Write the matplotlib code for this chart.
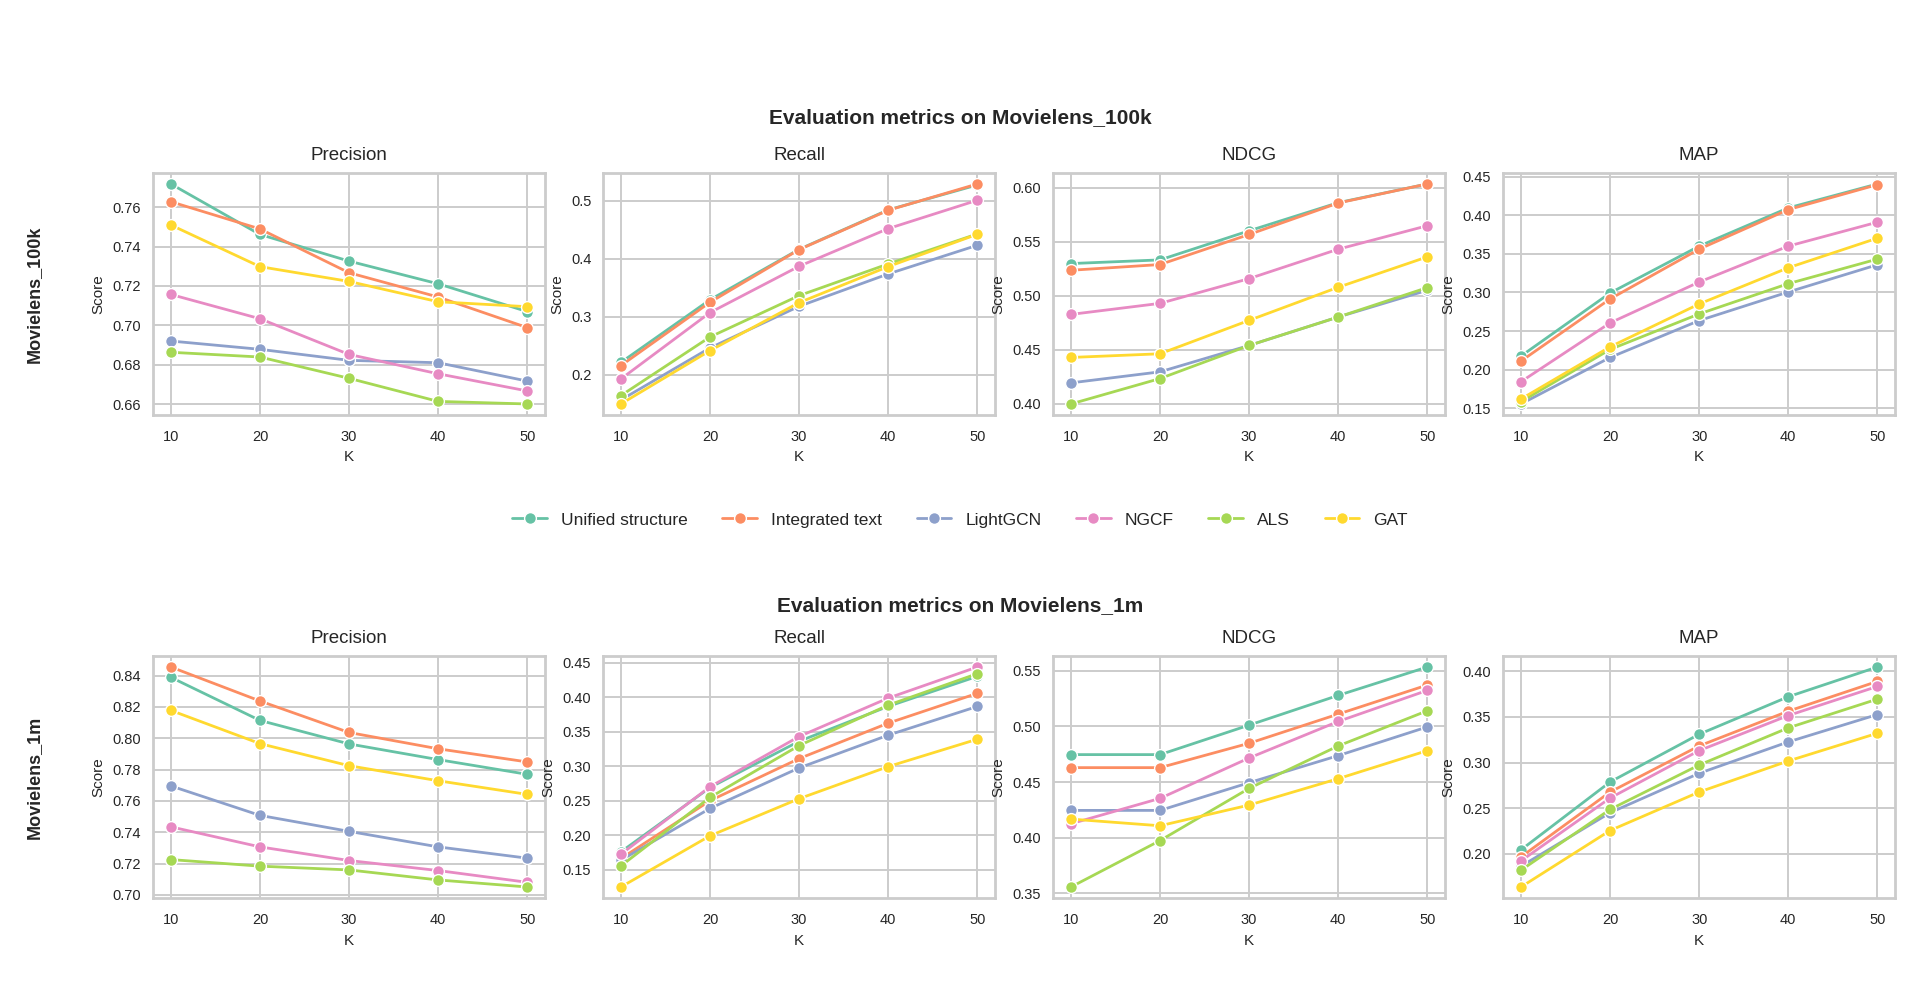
import matplotlib
matplotlib.use("Agg")
import matplotlib.pyplot as plt
import seaborn as sns

K = [10, 20, 30, 40, 50]
models = ["Unified structure", "Integrated text", "LightGCN", "NGCF", "ALS", "GAT"]
metrics = ["Precision", "Recall", "NDCG", "MAP"]
datasets = ["Movielens_100k", "Movielens_1m"]

# rows follow the order of `models`
prec_100k = [
    [0.7717, 0.7461, 0.7326, 0.7211, 0.7070],
    [0.7627, 0.7489, 0.7267, 0.7144, 0.6989],
    [0.6921, 0.6879, 0.6823, 0.6811, 0.6718],
    [0.7157, 0.7034, 0.6853, 0.6755, 0.6668],
    [0.6864, 0.6840, 0.6732, 0.6615, 0.6602],
    [0.7509, 0.7298, 0.7223, 0.7120, 0.7095],
]
rec_100k = [
    [0.2210, 0.3290, 0.4160, 0.4840, 0.5270],
    [0.2155, 0.3247, 0.4155, 0.4833, 0.5287],
    [0.1563, 0.2460, 0.3178, 0.3736, 0.4230],
    [0.1925, 0.3069, 0.3868, 0.4517, 0.5006],
    [0.1638, 0.2649, 0.3362, 0.3908, 0.4425],
    [0.1494, 0.2414, 0.3241, 0.3862, 0.4420],
]
ndcg_100k = [
    [0.5298, 0.5332, 0.5601, 0.5861, 0.6034],
    [0.5236, 0.5289, 0.5567, 0.5858, 0.6034],
    [0.4195, 0.4297, 0.4541, 0.4804, 0.5051],
    [0.4828, 0.4930, 0.5159, 0.5431, 0.5648],
    [0.4000, 0.4235, 0.4541, 0.4804, 0.5076],
    [0.4430, 0.4464, 0.4773, 0.5079, 0.5360],
]
map_100k = [
    [0.2176, 0.2993, 0.3600, 0.4095, 0.4405],
    [0.2111, 0.2916, 0.3561, 0.4073, 0.4396],
    [0.1556, 0.2158, 0.2636, 0.3006, 0.3359],
    [0.1844, 0.2606, 0.3135, 0.3600, 0.3910],
    [0.1586, 0.2262, 0.2722, 0.3114, 0.3432],
    [0.1620, 0.2296, 0.2851, 0.3320, 0.3703],
]
prec_1m = [
    [0.8389, 0.8114, 0.7964, 0.7864, 0.7770],
    [0.8455, 0.8238, 0.8037, 0.7933, 0.7849],
    [0.7696, 0.7508, 0.7406, 0.7307, 0.7235],
    [0.7435, 0.7307, 0.7220, 0.7156, 0.7081],
    [0.7226, 0.7184, 0.7160, 0.7096, 0.7051],
    [0.8178, 0.7966, 0.7825, 0.7729, 0.7642],
]
rec_1m = [
    [0.1757, 0.2690, 0.3360, 0.3866, 0.4301],
    [0.1660, 0.2499, 0.3109, 0.3623, 0.4055],
    [0.1636, 0.2387, 0.2974, 0.3449, 0.3865],
    [0.1723, 0.2701, 0.3429, 0.3986, 0.4437],
    [0.1553, 0.2547, 0.3298, 0.3884, 0.4340],
    [0.1248, 0.1990, 0.2528, 0.2993, 0.3390],
]
ndcg_1m = [
    [0.4746, 0.4746, 0.5011, 0.5278, 0.5533],
    [0.4629, 0.4629, 0.4848, 0.5110, 0.5371],
    [0.4245, 0.4245, 0.4494, 0.4737, 0.4995],
    [0.4125, 0.4353, 0.4716, 0.5044, 0.5323],
    [0.3557, 0.3974, 0.4443, 0.4824, 0.5140],
    [0.4167, 0.4107, 0.4293, 0.4530, 0.4782],
]
map_1m = [
    [0.2044, 0.2788, 0.3311, 0.3722, 0.4048],
    [0.1967, 0.2678, 0.3183, 0.3564, 0.3890],
    [0.1864, 0.2451, 0.2883, 0.3227, 0.3527],
    [0.1923, 0.2612, 0.3132, 0.3516, 0.3835],
    [0.1821, 0.2487, 0.2974, 0.3381, 0.3696],
    [0.1637, 0.2256, 0.2678, 0.3018, 0.3322],
]

results = [
    [prec_100k, rec_100k, ndcg_100k, map_100k],
    [prec_1m, rec_1m, ndcg_1m, map_1m],
]

sns.set_style("whitegrid")
plt.rcParams["font.family"] = ["Liberation Sans", "DejaVu Sans"]
plt.rcParams["axes.edgecolor"] = "#cccccc"
plt.rcParams["axes.linewidth"] = 2.0
plt.rcParams["grid.color"] = "#cccccc"
plt.rcParams["grid.linewidth"] = 1.4
colors = sns.color_palette("Set2", 6)
text_color = "#262626"

fig = plt.figure(figsize=(19.2, 9.98), dpi=100)

left0, width, step = 0.0797, 0.2042, 0.2344
row_bottoms = [0.5842, 0.1002]
height = 0.2425
suptitle_y = [0.882, 0.393]

for r, ds in enumerate(datasets):
    for c, metric in enumerate(metrics):
        ax = fig.add_axes([left0 + c * step, row_bottoms[r], width, height])
        for m, name in enumerate(models):
            ax.plot(K, results[r][c][m], color=colors[m], lw=2.0, marker="o",
                    ms=8.5, mec="white", mew=1.0, label=name)
        ax.set_xticks(K)
        ax.set_title(metric, fontsize=13.5, color=text_color, pad=9)
        ax.set_xlabel("K", fontsize=11, color=text_color, labelpad=5)
        ax.set_ylabel("Score", fontsize=11, color=text_color, labelpad=5)
        ax.tick_params(axis="x", labelsize=10.5, colors=text_color, pad=7)
        ax.tick_params(axis="y", labelsize=10.5, colors=text_color, pad=5)
    fig.text(0.5, suptitle_y[r], f"Evaluation metrics on {ds}", ha="center",
             va="center", fontsize=15, fontweight="bold", color=text_color)
    fig.text(0.0177, row_bottoms[r] + height / 2, ds, rotation=90, ha="center",
             va="center", fontsize=13, fontweight="bold", color=text_color)

handles, labels = ax.get_legend_handles_labels()
fig.legend(handles, labels, loc="center", bbox_to_anchor=(0.5, 0.479), ncol=6,
           frameon=False, fontsize=12.5, labelcolor=text_color)

fig.savefig("out.png", dpi=100)
